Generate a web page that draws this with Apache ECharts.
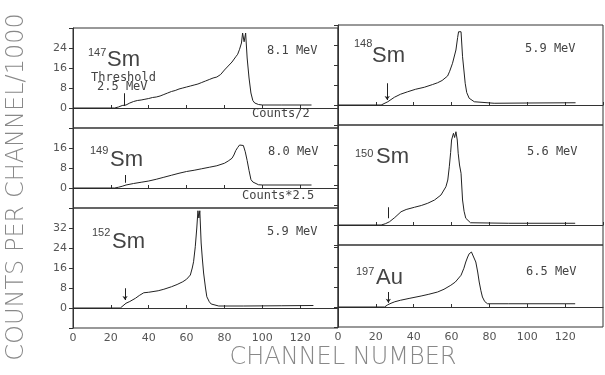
<!DOCTYPE html>
<html>
<head>
<meta charset="utf-8">
<script src="https://cdn.jsdelivr.net/npm/echarts@6/dist/echarts.min.js"></script>
<style>
  html, body { margin: 0; padding: 0; background: #fff; }
  #spectra { width: 605px; height: 375px; }
</style>
</head>
<body>
<div id="spectra"></div>
<script>
  // spectra: [channel, counts per channel / 1000]
  var sm147 = [[0,0],[22,0],[24,0.4],[26,1],[27,1.5],[28,1.2],[30,2],[32,2.6],[34,3],[36,3.2],[38,3.5],[40,3.8],[42,4.2],[44,4.4],[46,4.8],[48,5.4],[50,6],[52,6.6],[54,7],[56,7.6],[58,8],[60,8.4],[62,8.8],[64,9.2],[66,9.6],[68,10.2],[70,10.8],[72,11.4],[74,12],[76,12.4],[78,13.4],[80,15.2],[82,16.8],[84,18.4],[86,20.5],[87,21.5],[88,23.5],[89,26],[89.6,30],[90.4,26.5],[91.2,30],[92,20],[93,12],[94,6],[95,3],[96,2],[98,1.4],[100,1.2],[110,1.2],[126,1.2]]
  var sm149 = [[0,0],[22,0],[24,0.3],[26,0.7],[28,1.2],[32,1.8],[36,2.3],[40,2.8],[44,3.5],[48,4.3],[52,5.1],[56,5.9],[60,6.6],[64,7.1],[68,7.7],[72,8.3],[76,8.9],[80,9.9],[82,10.8],[84,11.9],[85,13.2],[86,15],[87,16.2],[88,17.2],[89,17.9],[90,17],[90.5,16.5],[91,14.5],[92,11],[93,7],[94,3.4],[95,2.4],[96,1.8],[98,1.3],[100,1.2],[126,1.2]]
  var sm152 = [[0,0],[25,0],[26,0.8],[28,1.9],[30,2.6],[33,3.9],[35,5],[37.4,6.1],[40,6.3],[45,6.9],[48,7.5],[52,8.5],[55,9.4],[58,10.5],[60,11.5],[62,13.2],[63,16],[63.7,18.5],[64.6,24.5],[65.4,32],[66,38.9],[66.5,36],[67,38.9],[67.7,26],[68.3,20],[69,14],[70,8],[70.7,4.5],[72,2.5],[73,1.6],[77,0.8],[90,0.8],[110,0.9],[127,1]]
  var sm148 = [[0,0],[22.8,0],[26.3,1.3],[29.8,3.1],[33,4.3],[36.8,5.3],[41,6.3],[45.6,7.1],[50,8.2],[52.6,8.9],[55,9.8],[57.9,11.6],[59,13.5],[60.5,16.7],[62.3,22],[63.2,27],[63.7,29.3],[64.3,28.5],[65,29.3],[65.8,19.3],[66.5,14],[67.2,8.7],[68,5],[69.3,2.7],[72,1.3],[82.5,0.7],[100,0.8],[125.5,0.9]]
  var sm150 = [[0,0],[22.8,0],[25,0.5],[27.2,1.3],[30,3],[33.3,5.3],[36,6.2],[40.4,7.1],[44,7.8],[47.4,8.7],[51,10],[54.4,12],[57,15.3],[58,18],[58.8,23.3],[59.5,29],[60,34],[61,36.7],[61.6,35],[62.3,37.3],[63,34],[63.5,28.7],[64.2,24],[65,20.7],[65.8,10],[66.6,5.5],[67.5,2.7],[70,0.9],[90,0.7],[125.3,0.7]]
  var au197 = [[0,0],[24.6,0],[26.3,0.9],[28,1.5],[30,2.1],[33,2.7],[38,3.5],[43.9,4.4],[48,5.1],[52.6,6],[56,7.1],[59.6,8.7],[62,10],[65,12.7],[66.5,15.5],[67.5,18],[68.5,20],[69.3,21.3],[70.5,22],[71.5,22],[72.8,18],[73.8,14],[74.6,10],[75.5,6.5],[76.3,4],[77.5,2.2],[79,1.3],[90,1.3],[125.3,1.3]]

  // threshold markers [channel, from, to]
  var mark147 = [27, 5.9, 0.8]
  var mark149 = [27.4, 5.2, 2.1]
  var mark152 = [27.5, 7.9, 3.2]
  var mark148 = [26, 8.7, 2]
  var mark150 = [26.3, 7.1, 2.7]
  var mark197 = [26.6, 6, 1.7]

  var xTicks = [0, 140, 20]          // min, max, step
  var yMax = [32, 24, 40, 32, 40, 24.8]

  var chart = echarts.init(document.getElementById('spectra'))
  var ink = '#222'
  var grey = '#555'

  // panel boxes: left col then right col
  var boxes = [
    { left: 73, top: 28, width: 265, height: 100 },
    { left: 73, top: 128, width: 265, height: 80 },
    { left: 73, top: 208, width: 265, height: 120 },
    { left: 338, top: 25, width: 265, height: 100 },
    { left: 338, top: 125, width: 265, height: 120 },
    { left: 338, top: 245, width: 265, height: 82 }
  ]
  var spectra = [sm147, sm149, sm152, sm148, sm150, au197]
  var marks = [mark147, mark149, mark152, mark148, mark150, mark197]
  var arrows = [false, false, true, true, false, true]

  var grid = [], xAxis = [], yAxis = [], series = []
  boxes.forEach(function (b, i) {
    grid.push({ left: b.left, top: b.top, width: b.width, height: b.height, show: true, borderColor: '#333', borderWidth: 1 })
    var bottomRow = (i === 2 || i === 5)
    var leftCol = i < 3
    xAxis.push({
      type: 'value', gridIndex: i, min: xTicks[0], max: xTicks[1], interval: xTicks[2],
      axisLine: { lineStyle: { color: '#333', width: 1 } },
      axisTick: { show: true, inside: true, length: 3, lineStyle: { color: '#333' } },
      splitLine: { show: false },
      axisLabel: { show: bottomRow, showMaxLabel: false, color: grey, fontSize: 11, fontFamily: 'DejaVu Sans', margin: 5 }
    })
    var top = yMax[i]
    yAxis.push({
      type: 'value', gridIndex: i, min: -8, max: top, interval: 8,
      axisLine: { show: true, lineStyle: { color: '#333', width: 1 } },
      axisTick: { show: true, inside: false, length: 4, lineStyle: { color: '#333' } },
      splitLine: { show: false },
      axisLabel: {
        show: leftCol, color: grey, fontSize: 11, fontFamily: 'DejaVu Sans', margin: 6,
        formatter: function (v) { return (v < 0 || v >= top) ? '' : v }
      }
    })
    var m = marks[i]
    series.push({
      type: 'line', xAxisIndex: i, yAxisIndex: i, data: spectra[i],
      showSymbol: false, symbol: 'none', animation: false,
      lineStyle: { color: ink, width: 1 },
      markLine: {
        silent: true, animation: false,
        symbol: arrows[i] ? ['none', 'arrow'] : ['none', 'none'],
        symbolSize: 4,
        label: { show: false },
        lineStyle: { color: ink, width: 1, type: 'solid' },
        data: [[{ coord: [m[0], m[1]] }, { coord: [m[0], m[2]] }]]
      }
    })
  })

  var mono = 'DejaVu Sans Mono'
  function txt(x, y, s, size, fam) {
    return { type: 'text', x: x, y: y, style: { text: s, fill: '#444', font: size + 'px ' + (fam || mono), textAlign: 'left', textVerticalAlign: 'middle' } }
  }
  var sans = 'Liberation Sans'
  var elems = [
    // 147Sm
    txt(88, 53, '147', 11, sans), txt(107, 60, 'Sm', 22, sans),
    txt(91, 78, 'Threshold', 12), txt(97, 87, '2.5 MeV', 12),
    txt(267, 51, '8.1 MeV', 12), txt(252, 114, 'Counts/2', 12),
    // 149Sm
    txt(90, 151, '149', 11, sans), txt(110, 160, 'Sm', 22, sans),
    txt(268, 152, '8.0 MeV', 12), txt(242, 196, 'Counts*2.5', 12),
    // 152Sm
    txt(92, 233, '152', 11, sans), txt(112, 242, 'Sm', 22, sans),
    txt(267, 232, '5.9 MeV', 12),
    // 148Sm
    txt(354, 44, '148', 11, sans), txt(372, 56, 'Sm', 22, sans),
    txt(525, 49, '5.9 MeV', 12),
    // 150Sm
    txt(355, 154, '150', 11, sans), txt(376, 157, 'Sm', 22, sans),
    txt(527, 152, '5.6 MeV', 12),
    // 197Au
    txt(356, 272, '197', 11, sans), txt(376, 278, 'Au', 22, sans),
    txt(526, 272, '6.5 MeV', 12),
    // axis titles
    { type: 'text', x: 17, y: 187, rotation: Math.PI / 2,
      style: { text: 'COUNTS PER CHANNEL/1000', fill: '#888', font: '200 24px DejaVu Sans', textAlign: 'center', textVerticalAlign: 'middle' } },
    { type: 'text', x: 343, y: 358,
      style: { text: 'CHANNEL NUMBER', fill: '#888', font: '200 24px DejaVu Sans', textAlign: 'center', textVerticalAlign: 'middle' } }
  ]

  var option = {
    backgroundColor: '#fff',
    animation: false,
    grid: grid,
    xAxis: xAxis,
    yAxis: yAxis,
    series: series,
    graphic: { elements: elems }
  }
  chart.setOption(option)
</script>
</body>
</html>
